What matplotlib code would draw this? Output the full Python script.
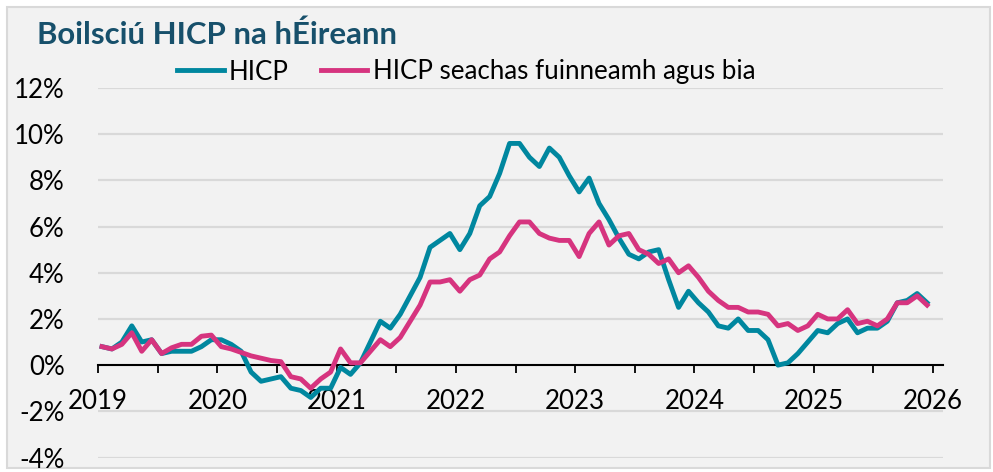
import numpy as np
import matplotlib
matplotlib.use("Agg")
import matplotlib.pyplot as plt
from matplotlib.patches import Rectangle
from matplotlib.transforms import ScaledTranslation

plt.rcParams['font.family'] = ['Lato', 'DejaVu Sans']

title = "Boilsciú HICP na hÉireann"
series_names = ["HICP", "HICP seachas fuinneamh agus bia"]
years = [2019, 2020, 2021, 2022, 2023, 2024, 2025, 2026]

# Monthly annual inflation, Jan 2019 - Dec 2025 (%)
hicp = [
    0.8, 0.7, 1.0, 1.7, 1.0, 1.1, 0.5, 0.6, 0.6, 0.6, 0.8, 1.1,
    1.1, 0.9, 0.6, -0.3, -0.7, -0.6, -0.5, -1.0, -1.1, -1.4, -1.0, -1.0,
    -0.1, -0.4, 0.1, 1.0, 1.9, 1.6, 2.2, 3.0, 3.8, 5.1, 5.4, 5.7,
    5.0, 5.7, 6.9, 7.3, 8.3, 9.6, 9.6, 9.0, 8.6, 9.4, 9.0, 8.2,
    7.5, 8.1, 7.0, 6.3, 5.5, 4.8, 4.6, 4.9, 5.0, 3.7, 2.5, 3.2,
    2.7, 2.3, 1.7, 1.6, 2.0, 1.5, 1.5, 1.1, 0.0, 0.1, 0.5, 1.0,
    1.5, 1.4, 1.8, 2.0, 1.4, 1.6, 1.6, 1.9, 2.7, 2.8, 3.1, 2.7,
]
core = [
    0.8, 0.7, 0.9, 1.4, 0.6, 1.1, 0.5, 0.75, 0.9, 0.9, 1.25, 1.3,
    0.8, 0.7, 0.55, 0.4, 0.3, 0.2, 0.15, -0.5, -0.6, -1.0, -0.6, -0.3,
    0.7, 0.1, 0.1, 0.6, 1.1, 0.8, 1.2, 1.9, 2.6, 3.6, 3.6, 3.7,
    3.2, 3.7, 3.9, 4.6, 4.9, 5.6, 6.2, 6.2, 5.7, 5.5, 5.4, 5.4,
    4.7, 5.7, 6.2, 5.2, 5.6, 5.7, 5.0, 4.8, 4.4, 4.6, 4.0, 4.3,
    3.8, 3.2, 2.8, 2.5, 2.5, 2.3, 2.3, 2.2, 1.7, 1.8, 1.5, 1.7,
    2.2, 2.0, 2.0, 2.4, 1.8, 1.9, 1.7, 2.0, 2.7, 2.7, 3.0, 2.6,
]

teal = "#00879f"
pink = "#d6347f"
title_color = "#17506b"

W, H = 993, 472
fig = plt.figure(figsize=(W / 100, H / 100), dpi=100)
fig.patch.set_facecolor("white")
fig.patches.append(Rectangle((7 / W, 4 / H), (990 - 7) / W, (465 - 4) / H,
                             transform=fig.transFigure, facecolor="#f2f2f2",
                             edgecolor="#d9d9d9", linewidth=1.5, zorder=-5))

left, right = 98 / W, 943 / W
top, bottom = 1 - 88 / H, 1 - 457.5 / H
ax = fig.add_axes([left, bottom, right - left, top - bottom])
ax.set_zorder(2)
ax.set_facecolor("none")

x = np.arange(len(hicp)) + 0.4
ax.plot(x, hicp, color=teal, lw=3.5, solid_joinstyle="round", label=series_names[0], zorder=3)
ax.plot(x, core, color=pink, lw=3.5, solid_joinstyle="round", label=series_names[1], zorder=3)

ax.set_xlim(0, 85)
ax.set_ylim(-4, 12)
yt = np.arange(-4, 13, 2)
ax.set_yticks(yt)
ax.set_yticklabels([f"{v}%" for v in yt])
for v in yt:
    if v != 0:
        ax.axhline(v, color="#d9d9d9", lw=1.6, zorder=1)

ax.set_xticks(np.arange(0, 85, 6))
ax.set_xticklabels([str(years[i // 12]) if i % 12 == 0 else "" for i in range(0, 85, 6)])
for lbl in ax.get_xticklabels():
    lbl.set_transform(lbl.get_transform() + ScaledTranslation(6 / 100, 0, fig.dpi_scale_trans))

for s in ["top", "right", "left"]:
    ax.spines[s].set_visible(False)
ax.spines["bottom"].set_position(("data", 0))
ax.spines["bottom"].set_linewidth(1.5)
ax.spines["bottom"].set_color("black")
ax.spines["bottom"].set_zorder(2)
ax.tick_params(axis="x", direction="out", length=6, width=1.3, color="black",
               labelsize=18.6, pad=11)
ax.tick_params(axis="y", length=0, labelsize=18.6, pad=24)

fig.text(37 / W, 1 - 35 / H, title, fontsize=22.4, fontweight="bold",
         color=title_color, ha="left", va="center")

leg = fig.legend(loc="center left", bbox_to_anchor=(177 / W, 1 - 72 / H),
                 ncol=2, frameon=False, fontsize=18.6, handlelength=1.8,
                 handletextpad=0.2, columnspacing=1.25, borderpad=0,
                 borderaxespad=0)

fig.savefig("out.png", dpi=100, facecolor=fig.get_facecolor())
